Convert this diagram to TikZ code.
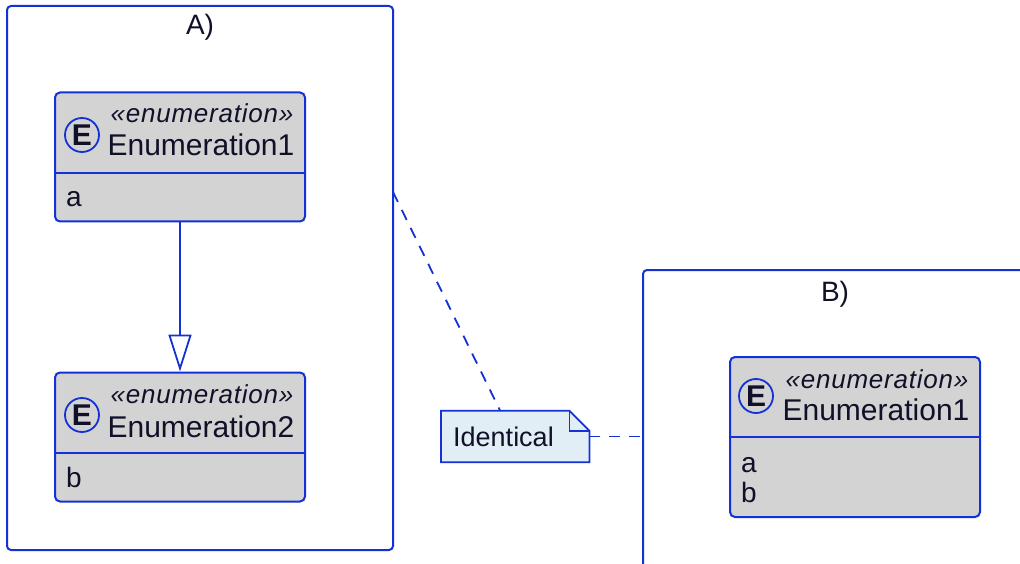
\documentclass[tikz,border=0pt]{standalone}
\usepackage{fontspec}
\setmainfont{Liberation Sans}
\usetikzlibrary{arrows.meta,backgrounds}
\definecolor{umlblue}{RGB}{20,50,212}
\definecolor{umlink}{RGB}{16,16,40}
\definecolor{enumgray}{RGB}{211,211,211}
\definecolor{notefill}{RGB}{226,238,246}
\tikzset{
  frame/.style={draw=umlblue, line width=2pt, rounded corners=4pt},
  enumbox/.style={draw=umlblue, fill=enumgray, line width=2pt, rounded corners=5pt, minimum width=250pt, inner sep=0pt},
  badge/.style={circle, draw=umlblue, line width=1.8pt, minimum size=34pt, inner sep=0pt, text=umlink, font=\fontsize{30}{30}\selectfont\bfseries},
  stereo/.style={anchor=base, inner sep=0pt, text=umlink, font=\fontsize{26}{26}\selectfont\itshape\addfontfeatures{LetterSpace=3}},
  ename/.style={anchor=base, inner sep=0pt, text=umlink, font=\fontsize{30}{30}\selectfont},
  item/.style={anchor=base west, inner sep=0pt, text=umlink, font=\fontsize{28}{28}\selectfont},
  title/.style={anchor=base, inner sep=0pt, text=umlink, font=\fontsize{28}{28}\selectfont},
  sep/.style={draw=umlblue, line width=1.8pt},
  notebox/.style={anchor=west, minimum height=51pt, text width=124pt, inner xsep=12pt, align=left, text=umlink, font=\fontsize{27}{27}\selectfont},
  notelink/.style={draw=umlblue, line width=1.8pt, dash pattern=on 11pt off 9pt}
}
\begin{document}
\begin{tikzpicture}[x=1pt,y=-1pt]
        \useasboundingbox (0,0) rectangle (1020,564);
        \clip (0,0) rectangle (1020,564);
        \node[frame, minimum width=386pt, minimum height=544pt] (frameA) at (200,278) {};
        \node[title] (titleA) at (200,35) {A)};
        \node[frame, minimum width=384pt, minimum height=560pt] (frameB) at (835,550) {};
        \node[title] (titleB) at (835,301) {B)};

        \node[enumbox, minimum height=129pt] (e1) at (180,157) {};
        \draw[sep] (e1.west |- 0,173) -- (e1.east |- 0,173);
        \node[badge] (e1icon) at (82,135) {E};
        \node[stereo] (e1stereo) at (202,123) {«enumeration»};
        \node[ename] (e1name) at (201,156) {Enumeration1};
        \node[item] (e1a) at (66,207) {a};

        \node[enumbox, minimum height=129pt] (e2) at (180,437) {};
        \draw[sep] (e2.west |- 0,453) -- (e2.east |- 0,453);
        \node[badge] (e2icon) at (82,415) {E};
        \node[stereo] (e2stereo) at (202,403) {«enumeration»};
        \node[ename] (e2name) at (201,437) {Enumeration2};
        \node[item] (e2b) at (66,487) {b};

        \node[enumbox, minimum height=160pt] (e3) at (855,437) {};
        \draw[sep] (e3.west |- 0,437) -- (e3.east |- 0,437);
        \node[badge] (e3icon) at (756,396) {E};
        \node[stereo] (e3stereo) at (877,388) {«enumeration»};
        \node[ename] (e3name) at (876,420) {Enumeration1};
        \node[item] (e3a) at (741,472) {a};
        \node[item] (e3b) at (741,502) {b};

        \draw[umlblue, line width=1.8pt, -{Triangle[open, length=37pt, width=23pt]}] (e1) -- (e2);

        \node[notebox] (note) at (441,436.5) {Identical};
        \begin{scope}[on background layer]
        \filldraw[draw=umlblue, fill=notefill, line width=1.8pt] (note.south west) -- (note.north west) -- ([xshift=-20pt]note.north east) -- ([yshift=-20pt]note.north east) -- (note.south east) -- cycle;
        \draw[umlblue, line width=1.8pt] ([xshift=-20pt]note.north east) |- ([yshift=-20pt]note.north east);
        \end{scope}

        \coordinate (linkA) at (393,192);
        \draw[notelink] (linkA) -- ([xshift=-15pt]note.north);
        \draw[notelink] (note.east) -- (frameB.west |- note.east);
\end{tikzpicture}
\end{document}
